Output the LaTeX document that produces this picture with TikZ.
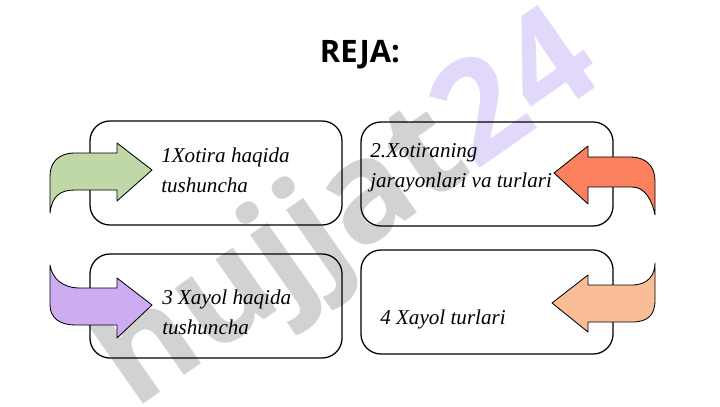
\documentclass[tikz,border=0pt]{standalone}
\usepackage{fontspec}
\setmainfont{Liberation Serif}
\newfontfamily\titlefont{Open Sans}
\usepackage{tikz}
\usetikzlibrary{positioning}

\definecolor{greenarrow}{RGB}{192,216,168}
\definecolor{redarrow}{RGB}{250,128,94}
\definecolor{purplearrow}{RGB}{206,172,242}
\definecolor{peacharrow}{RGB}{250,190,150}
\definecolor{markgray}{RGB}{210,210,210}
\definecolor{markpurple}{RGB}{226,216,250}

\tikzset{
  planbox/.style={draw, rounded corners=0.5cm, line width=0.9pt,
    minimum width=6.3cm, minimum height=2.6cm},
  plantext/.style={anchor=west, align=left, inner sep=0pt,
    font=\itshape\fontsize{15}{21.5}\selectfont},
  bentarrow/.style={draw, line width=0.6pt, line join=round}
}

\begin{document}
\begin{tikzpicture}[x=0.025cm,y=-0.025cm]

        \useasboundingbox (0,0) rectangle (720,406);

        % Watermark (behind everything)
        \node[rotate=35, font=\titlefont\bfseries\fontsize{100}{100}\selectfont,
          text=markgray] (mark) at (350,215) {hujjat\textcolor{markpurple}{24}};

        % Title
        \node[font=\titlefont\bfseries\fontsize{22}{26}\selectfont] (title) at (360,55) {REJA:};

        % Four boxes of the plan
        \node[planbox] (b1) at (216,173) {};
        \node[planbox] (b2) at (487,174) {};
        \node[planbox] (b3) at (216,306) {};
        \node[planbox] (b4) at (487,302) {};

        \node[plantext] (t1) at (161,170) {1Xotira haqida\\tushuncha};
        \node[plantext] (t2) at (370,168) {2.Xotiraning\\jarayonlari va turlari};
        \node[plantext] (t3) at (162,312) {3 Xayol haqida\\tushuncha};
        \node[plantext] (t4) at (380,319) {4 Xayol turlari};

        % Bent arrows pointing into the boxes
        \filldraw[bentarrow, fill=greenarrow] (50,213) .. controls (52,196) and (60,190) .. (75,190)
          -- (117,190) -- (117,201) -- (152,170) -- (117,143) -- (117,153) -- (75,153)
          .. controls (58,153) and (50,163) .. (50,176) -- cycle;
        \filldraw[bentarrow, fill=redarrow] (554,173) -- (588,146) -- (588,157) -- (630,157)
          .. controls (646,157) and (655,166) .. (655,181) -- (655,215)
          .. controls (652,200) and (645,187) .. (632,187) -- (588,187) -- (588,204) -- cycle;
        \filldraw[bentarrow, fill=purplearrow] (152,305) -- (117,278) -- (117,288) -- (80,288)
          .. controls (62,288) and (52,278) .. (50,265) -- (50,305)
          .. controls (50,318) and (60,325) .. (75,325) -- (117,325) -- (117,338) -- cycle;
        \filldraw[bentarrow, fill=peacharrow] (552,303) -- (588,275) -- (588,285) -- (632,285)
          .. controls (648,285) and (655,275) .. (655,263) -- (655,300)
          .. controls (655,315) and (648,322) .. (632,322) -- (588,322) -- (588,332) -- cycle;

      \end{tikzpicture}
\end{document}
